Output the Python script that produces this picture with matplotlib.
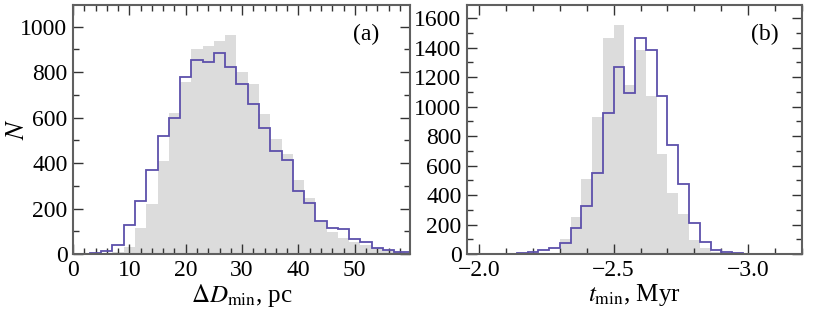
import matplotlib
matplotlib.use("Agg")
import matplotlib.pyplot as plt
import numpy as np
from matplotlib.ticker import MultipleLocator

plt.rcParams['font.family'] = ['Liberation Serif', 'DejaVu Serif']
plt.rcParams['mathtext.fontset'] = 'stix'

# panel (a): Delta D_min, pc  (bin width 2 pc, edges at odd values)
dmin_edges = np.arange(-1, 62, 2)
dmin_line = [0, 2, 4, 15, 40, 128, 232, 370, 520, 600, 779, 852, 846, 886, 824,
             748, 658, 553, 452, 414, 278, 226, 147, 116, 108, 65, 51, 28, 18, 8, 10]
dmin_gray = [0, 0, 0, 2, 8, 32, 113, 221, 409, 619, 755, 900, 916, 938, 963,
             800, 748, 615, 505, 439, 326, 248, 142, 98, 69, 54, 40, 25, 18, 10, 6]

# panel (b): t_min, Myr  (bin width 0.04 Myr)
tmin_edges = np.round(np.arange(-3.10, -1.93, 0.04), 2)
tmin_line = [1, 2, 2, 5, 11, 27, 79, 212, 474, 738, 1074, 1386, 1467, 1093, 1266,
             959, 551, 327, 174, 72, 38, 27, 14, 9, 3, 1, 1, 1, 1]
tmin_gray = [0, 0, 0, 2, 5, 16, 38, 95, 269, 411, 677, 1070, 1386, 1144, 1551,
             1467, 930, 512, 253, 102, 9, 0, 0, 0, 0, 0, 0, 0, 0]

gray = '#dcdcdc'
blue = '#5d50ab'
spine = '#606060'

fig = plt.figure(figsize=(8.17, 3.16), dpi=100)
axa = fig.add_axes([73 / 817, 62 / 316, 337 / 817, 249 / 316])
axb = fig.add_axes([467 / 817, 62 / 316, 335 / 817, 249 / 316])


def style(ax):
    for s in ax.spines.values():
        s.set_color(spine)
        s.set_linewidth(1.5)
    ax.tick_params(which='both', direction='in', top=True, right=True,
                   color='#333333', labelsize=17, pad=4)
    ax.tick_params(which='major', length=7, width=1.0)
    ax.tick_params(which='minor', length=4.5, width=1.0)


# (a)
axa.stairs(dmin_gray, dmin_edges, fill=True, color=gray, zorder=1)
axa.stairs(dmin_line, dmin_edges, color=blue, linewidth=1.3, zorder=2)
axa.set_xlim(0, 59.8)
axa.set_ylim(0, 1095)
axa.xaxis.set_major_locator(MultipleLocator(10))
axa.xaxis.set_minor_locator(MultipleLocator(2))
axa.yaxis.set_major_locator(MultipleLocator(200))
axa.yaxis.set_minor_locator(MultipleLocator(100))
style(axa)
axa.set_xlabel(r'$\Delta D_{\rm min}$, pc', fontsize=18, labelpad=1)
axa.set_ylabel(r'$N$', fontsize=19)
axa.yaxis.set_label_coords(-0.13, 0.5)
axa.text(0.87, 0.88, '(a)', transform=axa.transAxes, fontsize=17,
         ha='center', va='center')

# (b)
axb.stairs(tmin_gray, tmin_edges, fill=True, color=gray, zorder=1)
axb.stairs(tmin_line, tmin_edges, color=blue, linewidth=1.3, zorder=2)
axb.set_xlim(-1.955, -3.20)
axb.set_ylim(0, 1690)
axb.xaxis.set_major_locator(MultipleLocator(0.5))
axb.xaxis.set_minor_locator(MultipleLocator(0.1))
axb.yaxis.set_major_locator(MultipleLocator(200))
axb.yaxis.set_minor_locator(MultipleLocator(100))
axb.set_xticks([-2.0, -2.5, -3.0])
axb.set_xticklabels(['\u22122.0', '\u22122.5', '\u22123.0'])
style(axb)
axb.set_xlabel(r'$t_{\rm min}$, Myr', fontsize=18, labelpad=1)
axb.text(0.89, 0.88, '(b)', transform=axb.transAxes, fontsize=17,
         ha='center', va='center')

fig.savefig('out.png', dpi=100)
